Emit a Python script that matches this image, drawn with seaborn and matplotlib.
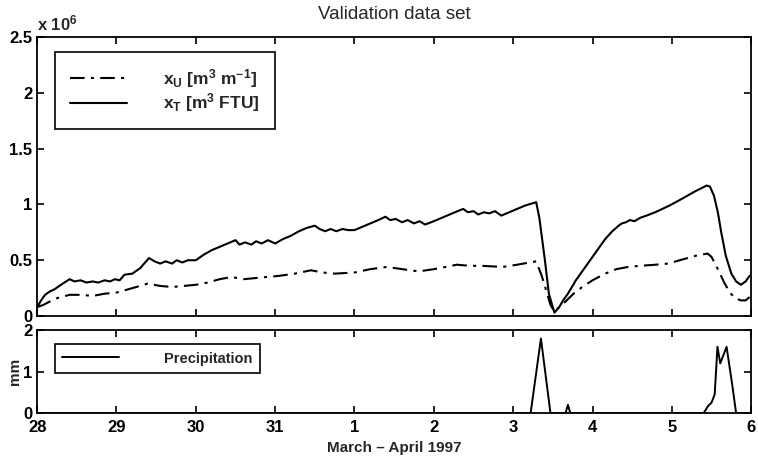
import numpy as np
import pandas as pd
import matplotlib
matplotlib.use("Agg")
import matplotlib.pyplot as plt
import seaborn as sns

# ==========================================
# DATA (days since 28 March 1997)
# ==========================================
xt_days = [0.00, 0.05, 0.10, 0.16, 0.22, 0.30, 0.41, 0.47, 0.55, 0.62, 0.70, 0.77, 0.85, 0.92,
           0.98, 1.04, 1.10, 1.20, 1.30, 1.41, 1.48, 1.55, 1.62, 1.70, 1.76, 1.83, 1.90, 2.00,
           2.10, 2.20, 2.30, 2.40, 2.50, 2.55, 2.62, 2.70, 2.76, 2.83, 2.91, 3.00, 3.10, 3.20,
           3.30, 3.40, 3.50, 3.56, 3.63, 3.70, 3.77, 3.85, 3.92, 4.00, 4.10, 4.20, 4.30, 4.39,
           4.45, 4.52, 4.60, 4.67, 4.75, 4.82, 4.89, 5.00, 5.10, 5.20, 5.30, 5.37, 5.43, 5.50,
           5.56, 5.63, 5.70, 5.77, 5.85, 5.95, 6.05, 6.15, 6.29, 6.33, 6.40, 6.45, 6.52, 6.58,
           6.63, 6.69, 6.79, 6.90, 7.00, 7.08, 7.16, 7.25, 7.33, 7.37, 7.42, 7.47, 7.53, 7.60,
           7.68, 7.79, 7.88, 7.97, 8.10, 8.20, 8.30, 8.44, 8.48, 8.53, 8.58, 8.62, 8.68, 8.75,
           8.81, 8.87, 8.93, 8.98]
xt_vals = [0.08, 0.14, 0.19, 0.22, 0.24, 0.28, 0.33, 0.31, 0.32, 0.30, 0.31, 0.30, 0.32, 0.31,
           0.33, 0.32, 0.37, 0.38, 0.43, 0.52, 0.49, 0.47, 0.49, 0.47, 0.50, 0.48, 0.50, 0.50,
           0.55, 0.59, 0.62, 0.65, 0.68, 0.64, 0.66, 0.64, 0.67, 0.65, 0.68, 0.65, 0.69, 0.72,
           0.76, 0.79, 0.81, 0.78, 0.76, 0.78, 0.76, 0.78, 0.77, 0.77, 0.80, 0.83, 0.86, 0.89,
           0.86, 0.87, 0.84, 0.86, 0.83, 0.85, 0.82, 0.85, 0.88, 0.91, 0.94, 0.96, 0.93, 0.94,
           0.91, 0.93, 0.92, 0.94, 0.90, 0.93, 0.96, 0.99, 1.02, 0.88, 0.50, 0.20, 0.03, 0.08,
           0.14, 0.20, 0.32, 0.43, 0.53, 0.61, 0.69, 0.76, 0.81, 0.83, 0.84, 0.86, 0.85, 0.88,
           0.90, 0.93, 0.96, 0.99, 1.04, 1.08, 1.12, 1.17, 1.16, 1.08, 0.93, 0.76, 0.54, 0.38,
           0.31, 0.28, 0.31, 0.36]

xu_days = [0.00, 0.08, 0.16, 0.25, 0.41, 0.55, 0.70, 0.85, 1.00, 1.10, 1.25, 1.39, 1.55, 1.70,
           1.85, 2.00, 2.15, 2.30, 2.45, 2.60, 2.75, 2.90, 3.05, 3.25, 3.45, 3.60, 3.75, 4.00,
           4.20, 4.41, 4.60, 4.81, 5.00, 5.15, 5.29, 5.45, 5.60, 5.87, 6.05, 6.29, 6.36, 6.42,
           6.47, 6.52, 6.58, 6.66, 6.76, 6.87, 7.00, 7.16, 7.30, 7.45, 7.60, 7.80, 7.95, 8.10,
           8.30, 8.45, 8.50, 8.58, 8.66, 8.73, 8.80, 8.87, 8.93, 8.98]
xu_vals = [0.08, 0.10, 0.13, 0.16, 0.19, 0.19, 0.18, 0.20, 0.21, 0.23, 0.26, 0.29, 0.27, 0.26,
           0.27, 0.28, 0.30, 0.33, 0.35, 0.33, 0.34, 0.35, 0.36, 0.38, 0.41, 0.39, 0.38, 0.39,
           0.42, 0.44, 0.42, 0.40, 0.42, 0.44, 0.46, 0.45, 0.45, 0.44, 0.46, 0.49, 0.36, 0.22,
           0.10, 0.04, 0.08, 0.13, 0.20, 0.26, 0.32, 0.38, 0.42, 0.44, 0.45, 0.46, 0.47, 0.50,
           0.54, 0.56, 0.53, 0.42, 0.30, 0.21, 0.16, 0.14, 0.14, 0.17]

precip_days = [0.00, 6.22, 6.35, 6.47, 6.66, 6.69, 6.72, 8.40, 8.46, 8.50, 8.54, 8.575,
               8.61, 8.69, 8.76, 8.81, 9.00]
precip_mm = [0.0, 0.0, 1.8, 0.0, 0.0, 0.2, 0.0, 0.0, 0.18, 0.25, 0.45, 1.6,
             1.2, 1.6, 0.7, 0.0, 0.0]

day_labels = ["28", "29", "30", "31", "1", "2", "3", "4", "5", "6"]

# ==========================================
# STYLE
# ==========================================
sns.set_theme(style="ticks")
plt.rcParams['font.family'] = ['Liberation Sans', 'DejaVu Sans']
plt.rcParams['mathtext.fontset'] = 'custom'
plt.rcParams['mathtext.rm'] = 'Liberation Sans:bold'
plt.rcParams['mathtext.it'] = 'Liberation Sans:bold'
plt.rcParams['mathtext.bf'] = 'Liberation Sans:bold'
plt.rcParams['axes.linewidth'] = 1.3
plt.rcParams['axes.edgecolor'] = 'black'


def style_axes(ax):
    ax.tick_params(direction='in', top=True, right=True, length=5, width=1.2,
                   labelsize=12, colors='black')
    ax.tick_params(axis='x', pad=5)
    for lab in ax.get_xticklabels() + ax.get_yticklabels():
        lab.set_fontweight('bold')
    for s in ax.spines.values():
        s.set_visible(True)
        s.set_color('black')


fig = plt.figure(figsize=(7.58, 4.58), dpi=100)
ax1 = fig.add_axes([0.049, 0.310, 0.942, 0.609])
ax2 = fig.add_axes([0.049, 0.098, 0.942, 0.181])

# top panel
df_u = pd.DataFrame({'day': xu_days, 'val': xu_vals})
df_t = pd.DataFrame({'day': xt_days, 'val': xt_vals})
sns.lineplot(data=df_u, x='day', y='val', ax=ax1, color='black', linewidth=1.5,
             estimator=None, sort=False, label=r'x$_U$ [m$^3$ m$^{-1}$]')
sns.lineplot(data=df_t, x='day', y='val', ax=ax1, color='black', linewidth=1.5,
             estimator=None, sort=False, label=r'x$_T$ [m$^3$ FTU]')
ax1.lines[0].set_dashes([7, 3, 1.5, 3])

ax1.set_xlim(0, 9)
ax1.set_ylim(0, 2.5)
ax1.set_xticks(range(10))
ax1.set_xticklabels([])
ax1.set_yticks([0, 0.5, 1, 1.5, 2, 2.5])
ax1.set_yticklabels(['0', '0.5', '1', '1.5', '2', '2.5'])
ax1.set_xlabel('')
ax1.set_ylabel('')
ax1.set_title('Validation data set', fontsize=13.5, pad=13)
ax1.text(0.0, 1.012, r'x 10$^6$', transform=ax1.transAxes, ha='left', va='bottom',
         fontsize=12, fontweight='bold')
style_axes(ax1)
leg1 = ax1.legend(loc='upper left', bbox_to_anchor=(0.025, 0.946), borderaxespad=0,
                  fancybox=False, edgecolor='black', framealpha=1,
                  prop={'weight': 'bold', 'size': 12.5},
                  handlelength=3.3, handletextpad=2.1, borderpad=0.85, labelspacing=0.1)
leg1.get_frame().set_linewidth(1.2)
for line in leg1.get_lines():
    line.set_linewidth(1.5)
leg1.get_lines()[0].set_dashes([7, 3, 1.5, 3])

# bottom panel
df_p = pd.DataFrame({'day': precip_days, 'mm': precip_mm})
sns.lineplot(data=df_p, x='day', y='mm', ax=ax2, color='black', linewidth=1.4,
             estimator=None, sort=False, label='Precipitation')
ax2.set_xlim(0, 9)
ax2.set_ylim(0, 2)
ax2.set_xticks(range(10))
ax2.set_xticklabels(day_labels)
ax2.set_yticks([0, 1, 2])
ax2.set_yticklabels(['0', '1', '2'])
ax2.set_xlabel('March \u2013 April 1997', fontsize=11, fontweight='bold', labelpad=4)
ax2.set_ylabel('mm', fontsize=11, fontweight='bold', labelpad=1)
style_axes(ax2)
leg2 = ax2.legend(loc='upper left', bbox_to_anchor=(0.025, 0.83), borderaxespad=0,
                  fancybox=False, edgecolor='black', framealpha=1,
                  prop={'weight': 'bold', 'size': 10.5},
                  handlelength=3.9, handletextpad=3.1, borderpad=0.5)
leg2.get_frame().set_linewidth(1.2)

fig.savefig('out.png', dpi=100)
